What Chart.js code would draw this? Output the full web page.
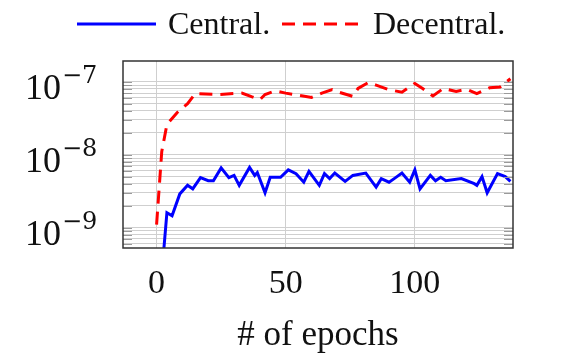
<!DOCTYPE html>
<html>
<head>
<meta charset="utf-8">
<script src="https://cdn.jsdelivr.net/npm/chart.js@4"></script>
<style>
  html, body { margin: 0; padding: 0; background: #fff; }
  #wrap { width: 564px; height: 355px; }
</style>
</head>
<body>
<div id="wrap"><canvas id="grafica" width="564" height="355"></canvas></div>
<script>
// datos
const epocasCentral = [2, 4, 6, 9, 12, 14, 17, 20, 22, 25, 28, 30, 32, 36, 38, 39, 42, 44, 48, 51, 54, 57, 59, 63, 65, 67, 69, 73, 76, 81, 85, 87, 90, 92, 95, 98, 100, 102, 106, 108, 110, 112, 118, 123, 124, 126, 128, 132, 135, 137];
const valoresCentral = [2.3e-10, 1.6e-9, 1.45e-9, 2.9e-9, 3.8e-9, 3.4e-9, 4.85e-9, 4.4e-9, 4.4e-9, 6.6e-9, 4.85e-9, 5.2e-9, 3.8e-9, 6.7e-9, 5.2e-9, 5.7e-9, 3.0e-9, 4.9e-9, 4.9e-9, 6.2e-9, 5.5e-9, 4.2e-9, 5.9e-9, 3.8e-9, 5.5e-9, 4.7e-9, 5.6e-9, 4.3e-9, 5.2e-9, 5.6e-9, 3.6e-9, 4.7e-9, 4.2e-9, 4.7e-9, 5.6e-9, 4.2e-9, 6.2e-9, 3.4e-9, 5.2e-9, 4.4e-9, 4.9e-9, 4.4e-9, 4.7e-9, 4.0e-9, 3.8e-9, 5.0e-9, 3.0e-9, 5.5e-9, 5.0e-9, 4.3e-9];

const epocasDecentral = [0, 2, 4, 8, 12, 15, 24, 33, 37, 40, 42, 46, 50, 60, 64, 68, 70, 76, 78, 82, 85, 90, 95, 100, 103, 107, 111, 116, 120, 124, 129, 133, 137];
const valoresDecentral = [1.1e-9, 1.1e-8, 2.6e-8, 3.8e-8, 5.0e-8, 6.9e-8, 6.7e-8, 7.0e-8, 6.2e-8, 5.7e-8, 6.7e-8, 7.5e-8, 7.0e-8, 6.1e-8, 7.0e-8, 7.8e-8, 7.3e-8, 6.3e-8, 8.1e-8, 9.8e-8, 9.0e-8, 7.8e-8, 7.2e-8, 9.5e-8, 8.1e-8, 6.4e-8, 8.1e-8, 7.4e-8, 7.9e-8, 6.9e-8, 8.3e-8, 8.5e-8, 1.1e-7];

const ticksX = [0, 50, 100];
const decadasY = [-9, -8, -7];
const etiquetas = ['Central.', 'Decentral.'];
const tituloX = '# of epochs';

const SERIF = '"Liberation Serif", "Times New Roman", serif';

const puntos = (xs, ys) => xs.map((x, i) => ({ x: x, y: ys[i] }));

// marco, marcas menores y etiquetas 10^k del eje y
const extras = {
    id: 'extras',
    afterDraw(chart) {
        const ctx = chart.ctx;
        const a = chart.chartArea;
        const y = chart.scales.y;
        ctx.save();
        // marcas cortas en los bordes
        ctx.strokeStyle = '#9a9a9a';
        ctx.lineWidth = 1;
        y.ticks.forEach(t => {
            const py = Math.round(y.getPixelForValue(t.value)) + 0.5;
            ctx.beginPath();
            ctx.moveTo(a.left, py); ctx.lineTo(a.left + 9, py);
            ctx.moveTo(a.right - 9, py); ctx.lineTo(a.right, py);
            ctx.stroke();
        });
        // marco
        ctx.strokeStyle = '#333';
        ctx.lineWidth = 1.5;
        ctx.strokeRect(a.left, a.top, a.right - a.left, a.bottom - a.top);
        // etiquetas del eje y
        ctx.fillStyle = '#111';
        decadasY.forEach(k => {
            const py = y.getPixelForValue(Math.pow(10, k));
            ctx.textBaseline = 'alphabetic';
            ctx.textAlign = 'right';
            ctx.font = '36px ' + SERIF;
            ctx.fillText('10', 61, py + 17);
            ctx.textAlign = 'left';
            ctx.font = '24px "DejaVu Serif", serif';
            ctx.fillText('\u2212' + String(-k), 62, py + 1);
        });
        // leyenda
        ctx.lineWidth = 3;
        ctx.strokeStyle = '#0000ff';
        ctx.setLineDash([]);
        ctx.beginPath(); ctx.moveTo(77, 24); ctx.lineTo(156, 24); ctx.stroke();
        ctx.strokeStyle = '#ff0000';
        ctx.setLineDash([13, 8]);
        ctx.beginPath(); ctx.moveTo(282, 24); ctx.lineTo(363, 24); ctx.stroke();
        ctx.setLineDash([]);
        ctx.font = '32px ' + SERIF;
        ctx.textAlign = 'left';
        ctx.textBaseline = 'alphabetic';
        ctx.fillText(etiquetas[0], 168, 34);
        ctx.fillText(etiquetas[1], 373, 34);
        ctx.restore();
    }
};

document.addEventListener('DOMContentLoaded', () => {
    const ctx = document.getElementById('grafica').getContext('2d');
    new Chart(ctx, {
        type: 'line',
        data: {
            datasets: [
                {
                    label: etiquetas[0],
                    data: puntos(epocasCentral, valoresCentral),
                    borderColor: '#0000ff',
                    borderWidth: 3,
                    pointRadius: 0,
                    tension: 0,
                    fill: false
                },
                {
                    label: etiquetas[1],
                    data: puntos(epocasDecentral, valoresDecentral),
                    borderColor: '#ff0000',
                    borderWidth: 3,
                    borderDash: [13, 8],
                    pointRadius: 0,
                    tension: 0,
                    fill: false
                }
            ]
        },
        options: {
            responsive: false,
            animation: false,
            devicePixelRatio: 1,
            layout: { padding: { left: 0, right: 51, top: 61, bottom: 0 } },
            plugins: {
                legend: { display: false },
                tooltip: { enabled: false }
            },
            scales: {
                x: {
                    type: 'linear',
                    min: -13,
                    max: 138,
                    afterBuildTicks: s => { s.ticks = ticksX.map(v => ({ value: v })); },
                    afterFit: s => { s.height = 107; },
                    grid: { color: '#cfcfcf', lineWidth: 1, drawTicks: false },
                    border: { display: false },
                    ticks: {
                        padding: 16,
                        color: '#111',
                        font: { family: SERIF, size: 34 },
                        maxRotation: 0
                    },
                    title: {
                        display: true,
                        text: tituloX,
                        color: '#111',
                        font: { family: SERIF, size: 35, lineHeight: 1.2 },
                        padding: { top: 0, bottom: -2 }
                    }
                },
                y: {
                    type: 'logarithmic',
                    min: 5.25e-10,
                    max: 1.93e-7,
                    afterBuildTicks: s => {
                        const t = [];
                        for (let k = -10; k <= -7; k++) {
                            for (let m = 1; m <= 9; m++) {
                                const v = m * Math.pow(10, k);
                                if (v >= s.min && v <= s.max) t.push({ value: v });
                            }
                        }
                        s.ticks = t;
                    },
                    afterFit: s => { s.width = 123; },
                    grid: { color: '#cfcfcf', lineWidth: 1, drawTicks: false },
                    border: { display: false },
                    ticks: { display: false }
                }
            }
        },
        plugins: [extras]
    });
});
</script>
</body>
</html>
